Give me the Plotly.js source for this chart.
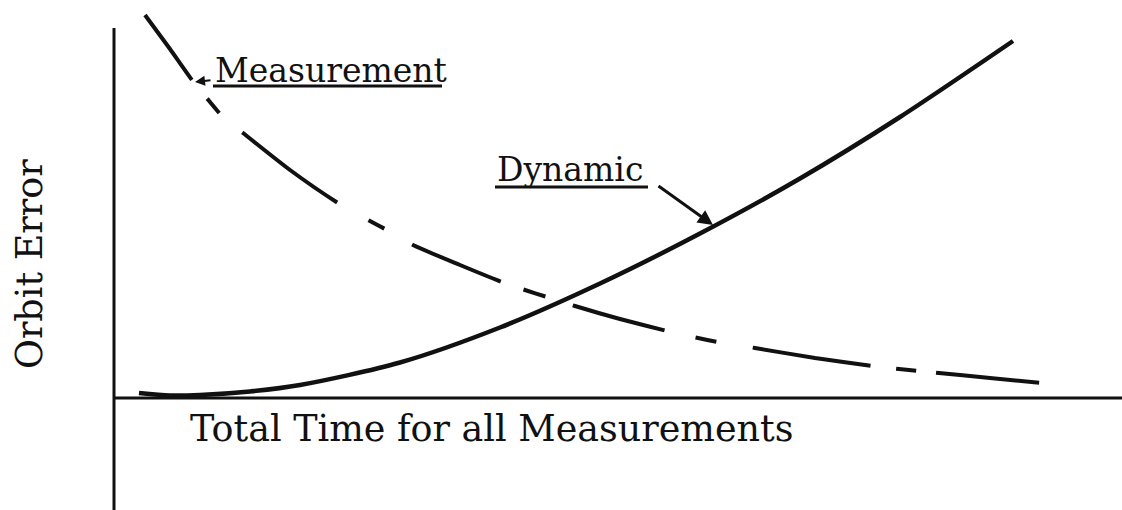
<!DOCTYPE html>
<html><head><meta charset="utf-8">
<script src="https://cdn.plot.ly/plotly-3.0.1.min.js"></script>
<style>html,body{margin:0;padding:0;background:#fff}</style>
</head><body><div id="chart" style="width:1122px;height:510px"></div>
<script>
// Schematic values (arbitrary units)
const measTime  = [0.31,0.56,0.78,0.96,1.08,1.29,1.76,2.24,2.56,2.71,2.99,3.46,3.88,4.11,4.33,4.61,5.06,5.53,5.84,6.04,6.41,7.01,7.59,7.85,8.05,8.25,8.76,9.28];
const measError = [3.83,3.49,3.18,2.96,2.82,2.65,2.28,1.95,1.77,1.69,1.53,1.33,1.16,1.08,1.01,0.92,0.79,0.67,0.60,0.56,0.50,0.40,0.32,0.29,0.27,0.25,0.20,0.15];
const dynTime   = [0.25,0.56,0.86,1.36,1.86,2.86,3.86,4.86,5.86,6.86,7.86,8.99];
const dynError  = [0.05,0.025,0.03,0.065,0.13,0.355,0.705,1.145,1.645,2.195,2.81,3.57];

const xAxisLabel = 'Total Time for all Measurements';
const yAxisLabel = 'Orbit Error';
const measLabel  = 'Measurement';
const dynLabel   = 'Dynamic';

// label anchor positions (data units)
const measLabelPos = {x:0.99, y:3.28};
const dynLabelPos  = {x:3.81, y:2.29};
const xLabelPos    = {x:0.74, y:-0.305};
const yLabelPos    = {x:-0.845, y:1.335};

const FONT = '"DejaVu Serif", "Liberation Serif", serif';
const INK = '#111';
const fsCurve = 33;
const fsAxis = 36.5;

const traces = [
  {x: measTime, y: measError, mode:'lines', type:'scatter',
   line:{color:INK, width:4, shape:'spline', smoothing:0.6,
         dash:'80px,24px,19px,30px,118px,36px,18px,32px,96px,24px,23px,29px,95px,32px,21px,37px,119px,26px,20px,20px,104px,300px'},
   hoverinfo:'skip'},
  {x: dynTime, y: dynError, mode:'lines', type:'scatter',
   line:{color:INK, width:4.5, shape:'spline', smoothing:0.8},
   hoverinfo:'skip'}
];

const ann = (t, p, size, extra) => Object.assign({
  text:t, x:p.x, y:p.y, xref:'x', yref:'y', showarrow:false,
  xanchor:'left', yanchor:'middle', font:{family:FONT, size:size, color:INK}
}, extra||{});

const annotations = [
  ann(measLabel, measLabelPos, fsCurve),
  ann(dynLabel, dynLabelPos, fsCurve),
  ann(xAxisLabel, xLabelPos, fsAxis),
  ann(yAxisLabel, yLabelPos, fsAxis, {xanchor:'center', textangle:-90}),
  // arrows
  {x:0.81, y:3.16, ax:0.98, ay:3.18, xref:'x', yref:'y', axref:'x', ayref:'y', text:'',
   showarrow:true, arrowhead:2, arrowsize:1, arrowwidth:2, arrowcolor:INK, standoff:0},
  {x:5.99, y:1.73, ax:5.43, ay:2.13, xref:'x', yref:'y', axref:'x', ayref:'y', text:'',
   showarrow:true, arrowhead:2, arrowsize:1, arrowwidth:3, arrowcolor:INK, standoff:0}
];

const shapes = [
  // axes
  {type:'line', xref:'x', yref:'y', x0:0, x1:0, y0:3.70, y1:-1.12, line:{color:INK, width:3}},
  {type:'line', xref:'x', yref:'y', x0:-0.01, x1:10.08, y0:0, y1:0, line:{color:INK, width:3}},
  // underlines
  {type:'line', xref:'x', yref:'y', x0:measLabelPos.x, x1:measLabelPos.x+2.29, y0:3.12, y1:3.12, line:{color:INK, width:3}},
  {type:'line', xref:'x', yref:'y', x0:dynLabelPos.x, x1:dynLabelPos.x+1.53, y0:2.11, y1:2.11, line:{color:INK, width:3}}
];

const layout = {
  width:1122, height:510,
  margin:{l:0,r:0,t:0,b:0,pad:0},
  paper_bgcolor:'#fff', plot_bgcolor:'#fff',
  showlegend:false,
  xaxis:{range:[-1.14,10.08], visible:false, fixedrange:true},
  yaxis:{range:[-1.12,3.98], visible:false, fixedrange:true},
  annotations, shapes
};

Plotly.newPlot('chart', traces, layout, {staticPlot:true, displayModeBar:false});
</script></body></html>
